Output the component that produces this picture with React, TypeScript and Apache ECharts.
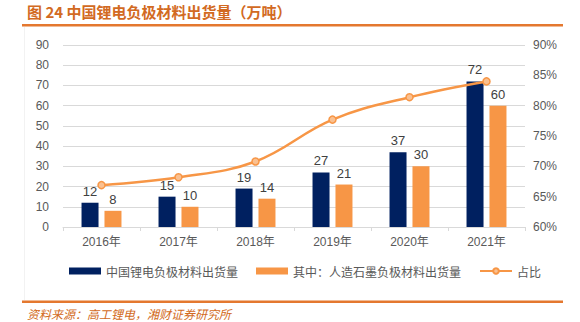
import React, { useEffect, useRef } from "react";
import * as echarts from "echarts";

const categories = ["2016年", "2017年", "2018年", "2019年", "2020年", "2021年"];
const totalShipments = [12, 15, 19, 27, 37, 72];
const graphiteShipments = [8, 10, 14, 21, 30, 60];
const sharePercent = [66.9, 68.2, 70.8, 77.7, 81.4, 84.0];

const seriesNames = ["中国锂电负极材料出货量", "其中：人造石墨负极材料出货量", "占比"];
const titleText = "图 24 中国锂电负极材料出货量（万吨）";
const sourceText = "资料来源：高工锂电，湘财证券研究所";

export default function App() {
  const ref = useRef<HTMLDivElement>(null);
  useEffect(() => {
    if (!ref.current) return;
    const chart = echarts.init(ref.current, undefined, { renderer: "svg" });
    const font = "Liberation Sans, Arial, 'Noto Sans CJK SC', sans-serif";
    const labelColor = "#595959";
    chart.setOption({
      animation: false,
      textStyle: { fontFamily: font },
      graphic: [
        {
          type: "text",
          x: 27,
          y: 4,
          style: {
            text: titleText,
            fill: "#D26A22",
            font: "600 15px 'Noto Sans CJK SC', sans-serif",
            textVerticalAlign: "top",
          },
        },
        {
          type: "rect",
          shape: { x: 22, y: 24, width: 541, height: 2.5 },
          style: { fill: "#E4782F" },
        },
        {
          type: "line",
          shape: { x1: 24.5, y1: 27, x2: 24.5, y2: 300 },
          style: { stroke: "#F2F2F2", lineWidth: 1 },
        },
        {
          type: "rect",
          shape: { x: 22, y: 300.5, width: 541, height: 2.5 },
          style: { fill: "#E4782F" },
        },
        {
          type: "text",
          x: 27,
          y: 307,
          style: {
            text: sourceText,
            fill: "#D26A22",
            font: "italic 12px 'Noto Sans CJK SC', sans-serif",
            textVerticalAlign: "top",
          },
        },
      ],
      legend: {
        left: 69,
        top: 265,
        padding: 0,
        itemWidth: 32,
        itemHeight: 7,
        itemGap: 18,
        textStyle: { color: labelColor, fontSize: 12, fontFamily: "'Noto Sans CJK SC', sans-serif" },
        data: [
          { name: seriesNames[0], icon: "rect" },
          { name: seriesNames[1], icon: "rect" },
          { name: seriesNames[2] },
        ],
      },
      grid: { left: 63, right: 55, top: 45, bottom: 95 },
      xAxis: {
        type: "category",
        data: categories,
        axisLine: { lineStyle: { color: "#D9D9D9" } },
        axisTick: { show: true, length: 4, lineStyle: { color: "#D9D9D9" } },
        axisLabel: { color: labelColor, fontSize: 12, margin: 9 },
      },
      yAxis: [
        {
          type: "value",
          min: 0,
          max: 90,
          interval: 10,
          axisLine: { show: false },
          axisTick: { show: false },
          axisLabel: { color: labelColor, fontSize: 12, margin: 14 },
          splitLine: { lineStyle: { color: "#D9D9D9" } },
        },
        {
          type: "value",
          min: 60,
          max: 90,
          interval: 5,
          axisLine: { show: false },
          axisTick: { show: false },
          axisLabel: { color: labelColor, fontSize: 12, margin: 8, formatter: "{value}%" },
          splitLine: { show: false },
        },
      ],
      series: [
        {
          name: seriesNames[0],
          type: "bar",
          data: totalShipments,
          barWidth: 17,
          barGap: "35%",
          itemStyle: { color: "#002060" },
          label: { show: true, position: "top", color: "#404040", fontSize: 13, distance: 5 },
        },
        {
          name: seriesNames[1],
          type: "bar",
          data: graphiteShipments,
          barWidth: 17,
          itemStyle: { color: "#F79646" },
          label: { show: true, position: "top", color: "#404040", fontSize: 13, distance: 5 },
        },
        {
          name: seriesNames[2],
          type: "line",
          yAxisIndex: 1,
          data: sharePercent,
          smooth: 0.4,
          symbol: "circle",
          symbolSize: 7,
          lineStyle: { color: "#F79646", width: 2.5 },
          itemStyle: { color: "#FAC090", borderColor: "#F79646", borderWidth: 1.5 },
          z: 5,
        },
      ],
    });
    return () => chart.dispose();
  }, []);
  return (
    <div
      ref={ref}
      style={{ position: "fixed", left: 0, top: 0, width: 580, height: 322, background: "#fff" }}
    />
  );
}
